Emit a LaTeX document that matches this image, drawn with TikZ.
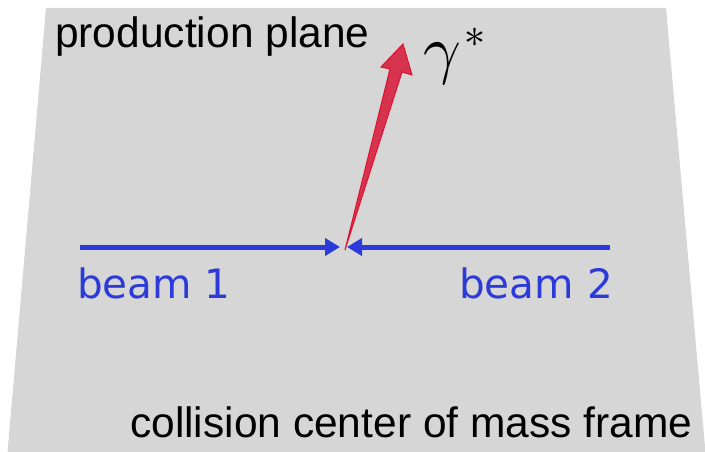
\documentclass[tikz,border=0pt]{standalone}
\usepackage{unicode-math}
\setmainfont{Liberation Sans}
\setmathfont{Latin Modern Math}
\newfontfamily\beamfont{DejaVu Sans}
\usetikzlibrary{arrows.meta}
\definecolor{planegray}{HTML}{D6D6D6}
\definecolor{beamblue}{HTML}{2B3AD8}
\definecolor{gfill}{HTML}{D6334F}
\definecolor{gedge}{HTML}{E0102F}
\tikzset{
  beam/.style={draw=beamblue, line width=5pt, -{Triangle[length=15pt,width=17pt]}},
  beamlabel/.style={text=beamblue, font=\beamfont\fontsize{40.5}{46}\selectfont, inner sep=0pt},
  planelabel/.style={text=black, font=\fontsize{42.5}{48}\selectfont, inner sep=0pt},
}
\begin{document}
\begin{tikzpicture}[x=1pt,y=-1pt]
\useasboundingbox (0,0) rectangle (705,452);
\clip (0,0) rectangle (705,452);
% production plane
\fill[planegray] (46,8) -- (666,8) -- (706,458) -- (7,458) -- cycle;
\node[planelabel, anchor=base west] (pp) at (55,48) {production plane};
\node[planelabel, anchor=base west] (cm) at (130,437) {collision center of mass frame};
% beams
\coordinate (c1) at (340,247);
\coordinate (c2) at (347,247);
\coordinate (b1) at (80,247);
\coordinate (b2) at (610,247);
\draw[beam] (b1) -- (c1);
\draw[beam] (b2) -- (c2);
\node[beamlabel, anchor=base west] (l1) at (77,298) {beam 1};
\node[beamlabel, anchor=base east] (l2) at (613,298) {beam 2};
% virtual photon arrow
\coordinate (base) at (345,250);
\coordinate (tip) at (403,44);
\filldraw[fill=gfill, draw=gedge, line width=1pt, line join=miter]
  (base) -- (390,69) -- (381,67) -- (tip) -- (412,75) -- (402,72) -- cycle;
\node[inner sep=0pt, anchor=base west, font=\fontsize{66}{70}\selectfont] (g) at (423,72) {$\gamma$};
\node[inner sep=0pt, anchor=center, font=\fontsize{42}{46}\selectfont] (gs) at (475,38) {$\ast$};
\end{tikzpicture}
\end{document}
